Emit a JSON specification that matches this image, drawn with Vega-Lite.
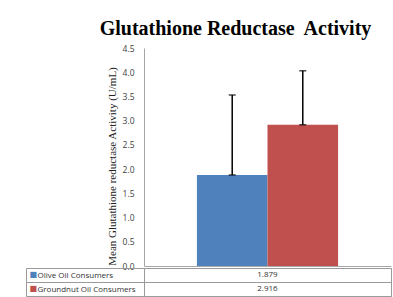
{
  "$schema": "https://vega.github.io/schema/vega-lite/v6.json",
  "padding": {"left": 25, "top": 19, "right": 3, "bottom": 1},
  "background": "white",
  "datasets": {
    "d": [
      {"series": "Olive Oil Consumers", "mean": 1.879, "upper": 3.53, "order": 1},
      {"series": "Groundnut Oil Consumers", "mean": 2.916, "upper": 4.03, "order": 2}
    ]
  },
  "spacing": 2,
  "bounds": "flush",
  "vconcat": [
    {
      "width": 247,
      "height": 218,
      "data": {"name": "d"},
      "title": {"text": "Glutathione Reductase\u00a0 Activity", "font": "Liberation Serif", "fontSize": 20, "fontWeight": "bold", "color": "black", "dx": -32, "offset": 5},
      "encoding": {
        "x": {"field": "series", "type": "nominal", "sort": {"field": "order"},
          "scale": {"paddingInner": 0, "paddingOuter": 0.75},
          "axis": {"labels": false, "ticks": false, "title": null, "domainColor": "#a6a6a6"}},
        "y": {"field": "mean", "type": "quantitative",
          "scale": {"domain": [0, 4.5], "nice": false},
          "axis": {"values": [0, 0.5, 1, 1.5, 2, 2.5, 3, 3.5, 4, 4.5], "tickCount": 10, "format": ".1f", "ticks": false, "grid": false,
            "labelOverlap": false,
            "labelPadding": 10, "labelFontSize": 8.5, "labelColor": "#404040", "labelFont": "Open Sans",
            "domainColor": "#a6a6a6",
            "title": "Mean Glutathione reductase Activity (U/mL)", "titleFont": "Liberation Serif", "titleFontSize": 11,
            "titleFontWeight": "normal", "titleColor": "#222", "titlePadding": 5, "titleY": 118}}
      },
      "layer": [
        {
          "mark": {"type": "bar"},
          "encoding": {
            "color": {"field": "series", "type": "nominal",
              "scale": {"domain": ["Olive Oil Consumers", "Groundnut Oil Consumers"], "range": ["#4f81bd", "#c0504d"]},
              "legend": null}
          }
        },
        {
          "mark": {"type": "rule", "color": "black", "strokeWidth": 1.5},
          "encoding": {"y2": {"field": "upper"}}
        },
        {
          "mark": {"type": "tick", "color": "black", "thickness": 1.5, "size": 7},
          "encoding": {}
        },
        {
          "mark": {"type": "tick", "color": "black", "thickness": 1.5, "size": 7},
          "encoding": {"y": {"field": "upper", "type": "quantitative"}}
        }
      ]
    },
    {
      "width": 247,
      "height": 28,
      "data": {"name": "d"},
      "view": {"stroke": "#9a9a9a", "strokeWidth": 1},
      "resolve": {"axis": {"y": "independent"}},
      "layer": [
        {
          "mark": {"type": "text", "fontSize": 8, "font": "Open Sans", "color": "#333"},
          "encoding": {
            "y": {"field": "series", "type": "nominal", "sort": {"field": "order"},
              "scale": {"paddingInner": 0, "paddingOuter": 0},
              "axis": {"orient": "left", "title": null, "domain": true, "domainColor": "#9a9a9a",
                "ticks": true, "tickBand": "extent", "tickSize": 118, "tickColor": "#9a9a9a",
                "grid": true, "gridColor": "#9a9a9a",
                "labelAlign": "left", "labelPadding": -11, "labelFontSize": 8, "labelFont": "Open Sans", "labelColor": "#333"}},
            "text": {"field": "mean", "type": "quantitative", "format": ".3f"}
          }
        },
        {
          "mark": {"type": "text", "text": ""},
          "encoding": {
            "y": {"field": "series", "type": "nominal", "sort": {"field": "order"},
              "axis": {"orient": "left", "offset": 118, "title": null, "domain": true, "domainColor": "#9a9a9a",
                "ticks": false, "grid": false, "labelAlign": "left", "labelPadding": -3,
                "labelExpr": "'■'", "labelFontSize": 8, "labelFont": "DejaVu Sans",
                "labelColor": {"expr": "datum.value == 'Olive Oil Consumers' ? '#4f81bd' : '#c0504d'"}}}
          }
        }
      ]
    }
  ],
  "config": {"view": {"stroke": null}, "axisY": {"labelOverlap": false}}
}
